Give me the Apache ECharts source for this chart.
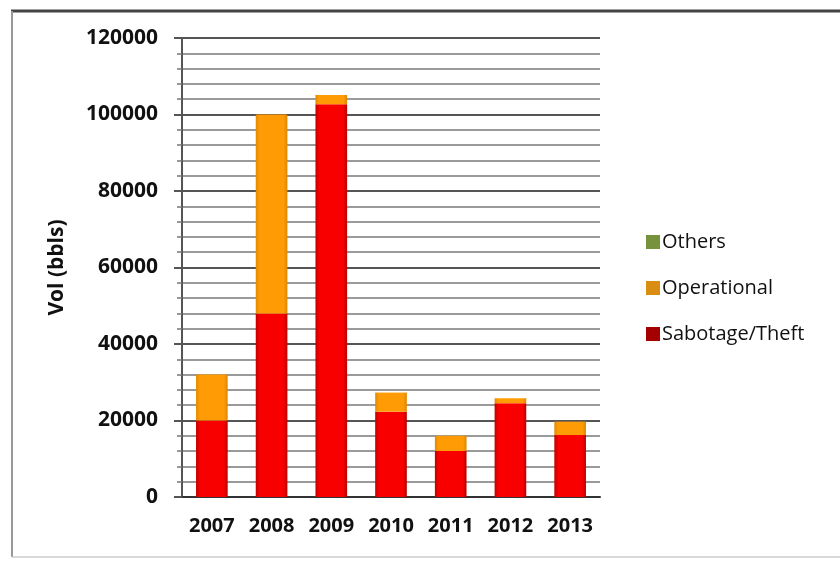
<!DOCTYPE html>
<html>
<head>
<meta charset="utf-8">
<script src="https://cdn.jsdelivr.net/npm/echarts@6/dist/echarts.min.js"></script>
<style>
  html, body { margin: 0; padding: 0; background: #fff; }
  #chart { width: 840px; height: 561px; }
</style>
</head>
<body>
<div id="chart"></div>
<script>
// Spill volumes by cause, 2007-2013 (barrels)
const years = ['2007', '2008', '2009', '2010', '2011', '2012', '2013'];
const sabotageTheft = [20000, 48000, 102700, 22300, 12000, 24500, 16200];
const operational = [12000, 52000, 2400, 5000, 4000, 1300, 3500];
const others = [0, 0, 0, 0, 0, 0, 0];

const FONT = '"Open Sans", "Noto Sans", sans-serif';

const chart = echarts.init(document.getElementById('chart'));

chart.setOption({
  animation: false,
  backgroundColor: '#ffffff',
  grid: { left: 182, right: 240, top: 38, bottom: 64 },
  legend: {
    orient: 'vertical',
    left: 641,
    top: 227,
    itemWidth: 14,
    itemHeight: 14,
    itemGap: 26,
    icon: 'rect',
    textStyle: { fontFamily: FONT, fontSize: 20, color: '#111', padding: [0, 0, 0, -3] },
    data: [
      { name: 'Others', itemStyle: { color: '#76923C' } },
      { name: 'Operational', itemStyle: { color: '#D98E12' } },
      { name: 'Sabotage/Theft', itemStyle: { color: '#A50000' } }
    ]
  },
  xAxis: {
    type: 'category',
    data: years,
    axisLine: { show: true, lineStyle: { color: '#333', width: 2 } },
    axisTick: { show: false },
    axisLabel: {
      interval: 0, hideOverlap: false,
      fontFamily: FONT, fontSize: 20, fontWeight: 'bold', color: '#111', margin: 19
    }
  },
  yAxis: {
    type: 'value',
    min: 0,
    max: 120000,
    interval: 20000,
    name: 'Vol (bbls)',
    nameLocation: 'middle',
    nameGap: 114,
    nameTextStyle: { fontFamily: FONT, fontSize: 21, fontWeight: 'bold', color: '#111' },
    axisLine: { show: true, lineStyle: { color: '#555', width: 2 } },
    axisTick: { show: true, length: 8, lineStyle: { color: '#555', width: 2 } },
    minorTick: { show: true, splitNumber: 5, length: 5, lineStyle: { color: '#777', width: 1.5 } },
    splitLine: { show: true, lineStyle: { color: '#555', width: 2 } },
    minorSplitLine: { show: true, lineStyle: { color: '#9a9a9a', width: 2 } },
    axisLabel: {
      fontFamily: FONT, fontSize: 21, fontWeight: 'bold', color: '#111', margin: 24,
      formatter: v => String(v)
    }
  },
  series: [
    {
      name: 'Sabotage/Theft',
      type: 'bar',
      stack: 'vol',
      barWidth: '53%',
      data: sabotageTheft,
      itemStyle: {
        color: {
          type: 'linear', x: 0, y: 0, x2: 1, y2: 0,
          colorStops: [
            { offset: 0, color: '#C00000' },
            { offset: 0.12, color: '#F80000' },
            { offset: 0.88, color: '#F80000' },
            { offset: 1, color: '#B80000' }
          ]
        }
      }
    },
    {
      name: 'Operational',
      type: 'bar',
      stack: 'vol',
      data: operational,
      itemStyle: {
        color: {
          type: 'linear', x: 0, y: 0, x2: 1, y2: 0,
          colorStops: [
            { offset: 0, color: '#E08A00' },
            { offset: 0.12, color: '#FF9C05' },
            { offset: 0.88, color: '#FF9C05' },
            { offset: 1, color: '#DC8600' }
          ]
        }
      }
    },
    {
      name: 'Others',
      type: 'bar',
      stack: 'vol',
      data: others,
      itemStyle: { color: '#8BAA48' }
    }
  ],
  graphic: [
    // chart frame
    { type: 'line', shape: { x1: 11, y1: 11, x2: 840, y2: 11 }, style: { stroke: '#444', lineWidth: 3 } },
    { type: 'line', shape: { x1: 12, y1: 11, x2: 12, y2: 557 }, style: { stroke: '#999', lineWidth: 2 } },
    { type: 'line', shape: { x1: 12, y1: 557, x2: 840, y2: 557 }, style: { stroke: '#ccc', lineWidth: 1.5 } }
  ]
});
</script>
</body>
</html>
